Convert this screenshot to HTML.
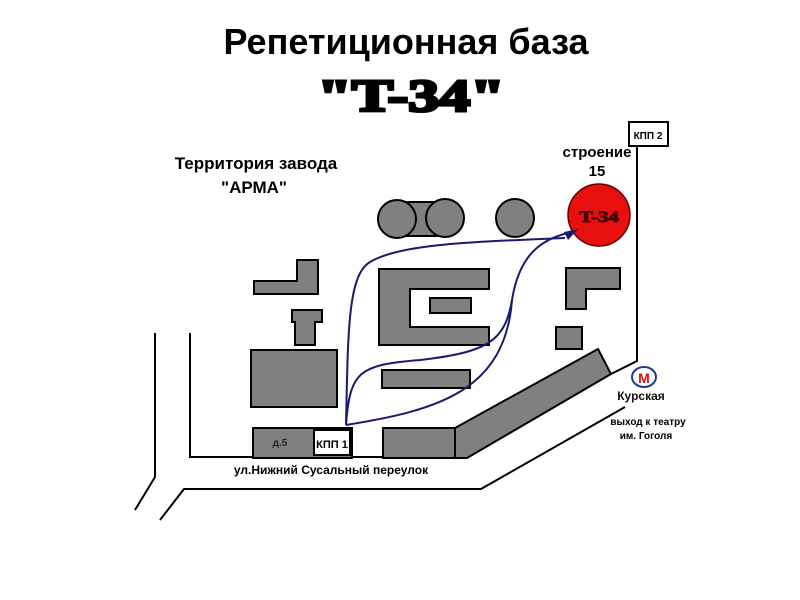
<!DOCTYPE html>
<html><head><meta charset="utf-8"><style>
html,body{margin:0;padding:0;background:#fff;}
svg{display:block;}
text{font-family:"Liberation Sans",sans-serif;font-weight:bold;}
</style></head><body>
<svg width="800" height="600" viewBox="0 0 800 600" xmlns="http://www.w3.org/2000/svg">
<rect width="800" height="600" fill="#fff"/>
<text x="406" y="54" font-size="36" text-anchor="middle">Репетиционная база</text>
<text x="411" y="111" font-size="46" text-anchor="middle" style="font-family:'Liberation Serif',serif;font-weight:900" stroke="#000" stroke-width="3" transform="translate(411 0) scale(1.35 1) translate(-411 0)">"T-34"</text>
<text x="256" y="169" font-size="17" text-anchor="middle">Территория завода</text>
<text x="254" y="193" font-size="17" text-anchor="middle">"АРМА"</text>
<text x="597" y="157" font-size="15" text-anchor="middle">строение</text>
<text x="597" y="176" font-size="15" text-anchor="middle">15</text>
<g fill="none" stroke="#000" stroke-width="2">
<polyline points="155,333 155,477 135,510"/>
<polyline points="190,333 190,457 463,457"/>
<polyline points="160,520 184,489 481,489 625,407"/>
<polyline points="637,121 637,361 611,374"/>
</g>
<g fill="#808080" stroke="#000" stroke-width="2">
<polygon points="297,260 318,260 318,294 254,294 254,281 297,281"/>
<polygon points="292,310 322,310 322,322 315,322 315,345 295,345 295,322 292,322"/>
<rect x="251" y="350" width="86" height="57"/>
<rect x="253" y="428" width="99" height="30"/>
<rect x="383" y="428" width="73" height="30"/>
<polygon points="455,428 598,349 611,374 467,458 455,458"/>
<rect x="397" y="202" width="48" height="34"/>
<circle cx="397" cy="219" r="19"/>
<circle cx="445" cy="218" r="19"/>
<circle cx="515" cy="218" r="19"/>
<polygon points="379,269 489,269 489,289 410,289 410,327 489,327 489,345 379,345"/>
<rect x="430" y="298" width="41" height="15"/>
<rect x="382" y="370" width="88" height="18"/>
<polygon points="566,268 620,268 620,289 586,289 586,309 566,309"/>
<rect x="556" y="327" width="26" height="22"/>
</g>
<rect x="314" y="430" width="36" height="25" fill="#fff" stroke="#000" stroke-width="2"/>
<text x="332" y="448" font-size="11" text-anchor="middle">КПП 1</text>
<text x="280" y="446" font-size="10" text-anchor="middle" fill="#222">д.5</text>
<rect x="629" y="122" width="39" height="24" fill="#fff" stroke="#000" stroke-width="2"/>
<text x="648" y="139" font-size="10" text-anchor="middle">КПП 2</text>
<circle cx="599" cy="215" r="31" fill="#e8100f" stroke="#600" stroke-width="1.5"/>
<text x="599" y="222" font-size="16" text-anchor="middle" fill="#400" style="font-family:'Liberation Serif',serif;font-weight:900" stroke="#400" stroke-width="1" transform="translate(599 0) scale(1.3 1) translate(-599 0)">T-34</text>
<g fill="none" stroke="#1a1a6e" stroke-width="2">
<path d="M346,425 C348,330 348,275 370,262 C400,244 470,242 565,238"/>
<path d="M346,425 C350,370 360,365 420,360 C490,352 505,340 512,300 C520,250 545,238 575,231"/>
<path d="M346,425 C440,410 505,390 512,300"/>
</g>
<polygon points="578,229 564,232 568,240" fill="#1a1a6e"/>
<ellipse cx="644" cy="377" rx="12" ry="10" fill="#fff" stroke="#1a3a9a" stroke-width="2"/>
<text x="644" y="383" font-size="14" text-anchor="middle" fill="#e01010">М</text>
<text x="641" y="400" font-size="12" text-anchor="middle" fill="#111">Курская</text>
<text x="648" y="425" font-size="10" text-anchor="middle">выход к театру</text>
<text x="646" y="439" font-size="10" text-anchor="middle">им. Гоголя</text>
<text x="331" y="474" font-size="12" text-anchor="middle">ул.Нижний Сусальный переулок</text>
</svg>
</body></html>
